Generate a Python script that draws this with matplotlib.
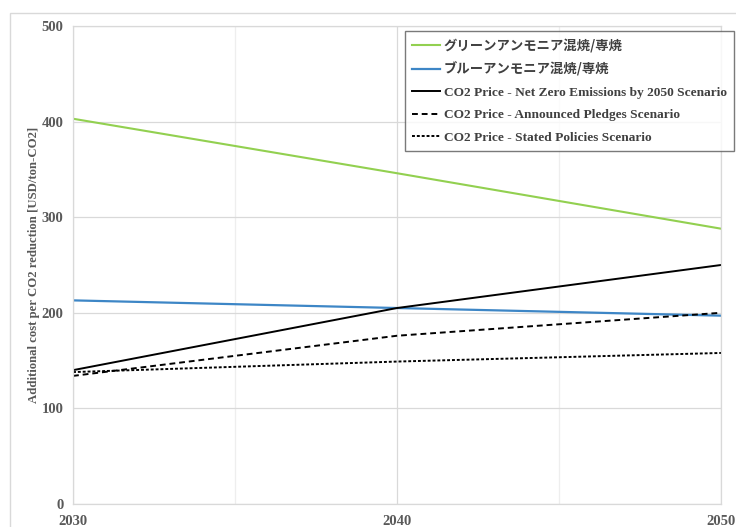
import matplotlib.pyplot as plt
from matplotlib.patches import Rectangle

years = [2030, 2040, 2050]
green_nh3 = [403, 346, 288]
blue_nh3 = [213, 205, 197]
co2_nze = [140, 205, 250]
co2_aps = [134, 176, 200]
co2_steps = [138, 149, 158]

labels = [
    'グリーンアンモニア混焼/専焼',
    'ブルーアンモニア混焼/専焼',
    'CO2 Price - Net Zero Emissions by 2050 Scenario',
    'CO2 Price - Announced Pledges Scenario',
    'CO2 Price - Stated Policies Scenario',
]

serif = 'Liberation Serif'
jp = 'Noto Sans CJK JP'
grey_txt = '#595959'
grid_c = '#d9d9d9'

fig = plt.figure(figsize=(7.36, 5.27), dpi=100)
ax = fig.add_axes([73 / 736, 1 - 504 / 527, (721 - 73) / 736, (504 - 26) / 527])

# outer chart frame
fig.patches.append(Rectangle((10 / 736, -0.1), 1.2, 1.1 - 13 / 527,
                             transform=fig.transFigure, fill=False,
                             edgecolor=grid_c, linewidth=1.0))

ax.plot(years, green_nh3, color='#92D050', lw=1.5, label=labels[0])
ax.plot(years, blue_nh3, color='#3D86C6', lw=1.6, label=labels[1])
ax.plot(years, co2_nze, color='black', lw=1.4, label=labels[2])
ax.plot(years, co2_aps, color='black', lw=1.4, ls=(0, (3, 2)), label=labels[3])
ax.plot(years, co2_steps, color='black', lw=1.4, ls=(0, (1.5, 1)), label=labels[4])

ax.set_xlim(2030, 2050)
ax.set_ylim(0, 500)
ax.set_xticks([2030, 2040, 2050])
ax.set_xticks([2035, 2045], minor=True)
ax.set_yticks(range(0, 501, 100))
ax.grid(True, which='major', color=grid_c, lw=0.9)
ax.grid(True, which='minor', axis='x', color='#eeeeee', lw=0.9)
ax.set_axisbelow(True)
for s in ax.spines.values():
    s.set_color(grid_c)
    s.set_linewidth(0.9)

ax.tick_params(which='both', length=0)
ax.tick_params(axis='y', pad=7)
ax.tick_params(axis='x', pad=8)
for t in ax.get_xticklabels() + ax.get_yticklabels():
    t.set_fontfamily(serif)
    t.set_fontweight('bold')
    t.set_fontsize(10.5)
    t.set_color(grey_txt)

ax.set_ylabel('Additional cost per CO2 reduction [USD/ton-CO2]',
              fontfamily=serif, fontweight='bold', fontsize=9.2, color=grey_txt)
ax.yaxis.set_label_coords((40 - 73) / 648, 0.5)

leg = ax.legend(loc='upper left', bbox_to_anchor=(405 / 736, 1 - 31 / 527),
                bbox_transform=fig.transFigure, fancybox=False, frameon=True,
                fontsize=9.6, labelspacing=0.75, handlelength=2.1,
                handletextpad=0.25, borderpad=0.55, borderaxespad=0)
leg.get_frame().set_edgecolor('#595959')
leg.get_frame().set_linewidth(1.0)
for i, t in enumerate(leg.get_texts()):
    t.set_color('#404040')
    if i < 2:
        t.set_fontfamily([jp, 'DejaVu Sans'])
        t.set_fontweight('bold')
        t.set_fontsize(9.6)
    else:
        t.set_fontfamily(serif)
        t.set_fontweight('bold')

fig.savefig('out.png', dpi=100)
